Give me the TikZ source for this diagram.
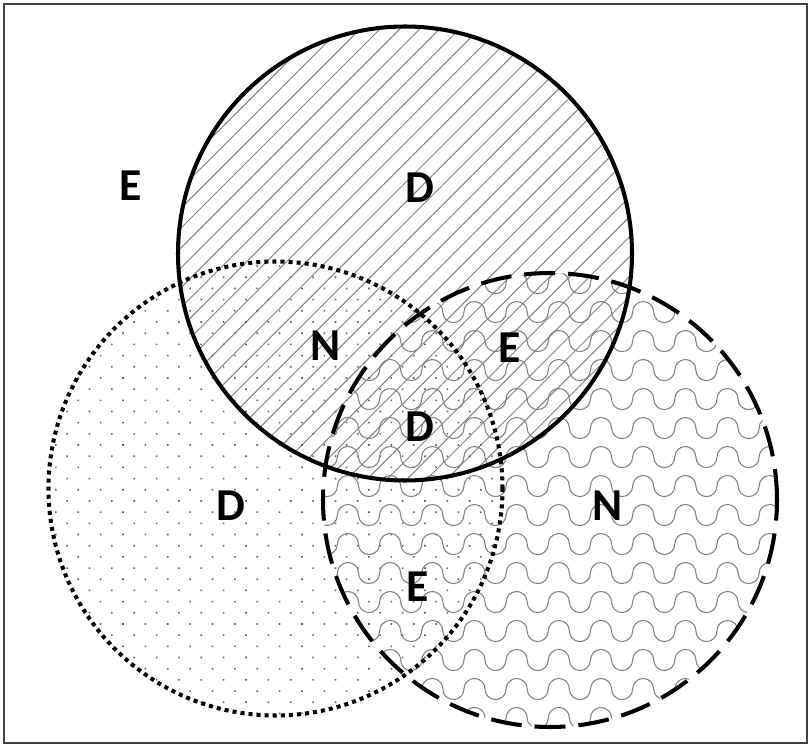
\documentclass[tikz,border=0pt]{standalone}
\usepackage{fontspec}
\setmainfont{Carlito}
\usepackage{tikz}
\usetikzlibrary{patterns.meta}

% wavy fill for the lower right set
\pgfdeclarepattern{
  name=Waves,
  type=uncolored,
  bottom left={\pgfpoint{-1pt}{-7pt}},
  top right={\pgfpoint{25pt}{7pt}},
  tile size={\pgfpoint{24pt}{16.5pt}},
  code={
    \pgfsetlinewidth{0.6pt}
    \pgfpathmoveto{\pgfpoint{0pt}{0pt}}
    \pgfpatharc{180}{0}{6pt}
    \pgfpatharc{180}{360}{6pt}
    \pgfusepath{stroke}
  }
}

\begin{document}
\begin{tikzpicture}[
  lbl/.style={font=\fontsize{26}{30}\selectfont\bfseries, inner sep=0pt},
  hatchA/.style={pattern={Lines[angle=45, distance=8pt, line width=0.55pt]}, pattern color=gray},
  hatchB/.style={pattern={Dots[angle=45, distance=9pt, radius=0.65pt]}, pattern color=gray!80!black},
  hatchC/.style={pattern=Waves, pattern color=gray},
  ringA/.style={draw=black, line width=2.3pt},
  ringB/.style={draw=black, line width=2.3pt, dash pattern=on 2.3pt off 2.3pt},
  ringC/.style={draw=black, line width=2.3pt, dash pattern=on 17.6pt off 7.4pt}
]
\useasboundingbox (0,0) rectangle (16.22,14.94);
\draw[black!75, line width=1.1pt] (0.08,0.08) rectangle (16.14,14.86);

\coordinate (cA) at (8.10,9.87);
\coordinate (cB) at (5.51,5.17);
\coordinate (cC) at (11.00,4.94);

% fills
\path[hatchA] (cA) circle[radius=4.54];
\path[hatchB] (cB) circle[radius=4.54];
\path[hatchC] (cC) circle[radius=4.54];

% outlines
\path[ringA] (cA) circle[radius=4.54];
\path[ringB] (cB) circle[radius=4.54];
\path[ringC] (cC) circle[radius=4.54];

% region letters
\node[lbl] (e1) at (2.62,11.22) {E};
\node[lbl] (d1) at (8.40,11.18) {D};
\node[lbl] (n1) at (6.52,8.02) {N};
\node[lbl] (e2) at (10.20,7.98) {E};
\node[lbl] (d2) at (8.40,6.40) {D};
\node[lbl] (d3) at (4.62,4.82) {D};
\node[lbl] (n2) at (12.16,4.82) {N};
\node[lbl] (e3) at (8.36,3.20) {E};
\end{tikzpicture}
\end{document}
